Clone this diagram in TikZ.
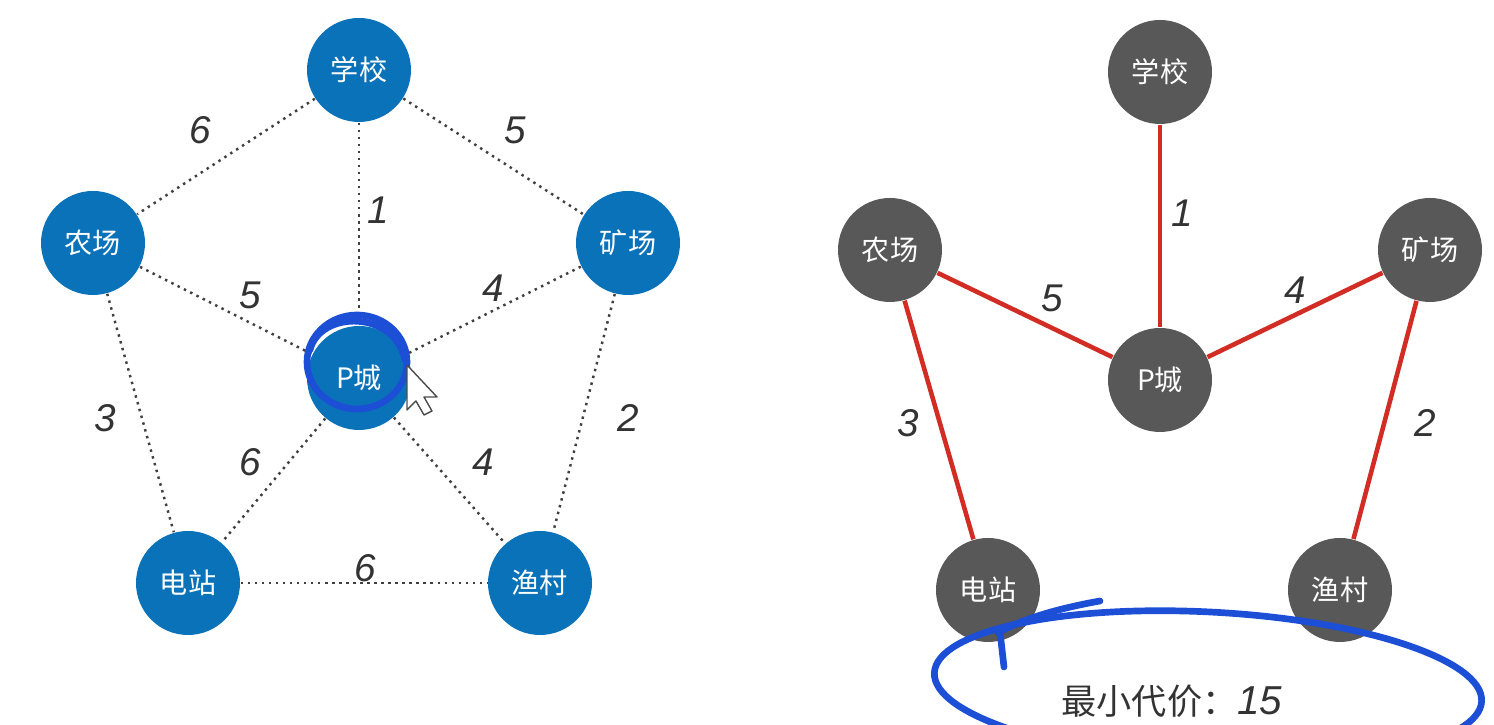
\documentclass[tikz,border=0pt]{standalone}
\usepackage{fontspec}
\setmainfont{Liberation Sans}
\newfontfamily\cjk{Noto Sans CJK SC}
\definecolor{cblue}{RGB}{10,114,184}
\definecolor{cgray}{RGB}{88,88,88}
\definecolor{cred}{RGB}{210,45,36}
\definecolor{pen}{RGB}{28,78,214}

\begin{document}
\begin{tikzpicture}[
    city/.style={circle, minimum size=1.04cm, inner sep=0pt, text=white, font=\cjk\fontsize{8}{9}\selectfont},
    open/.style={city, fill=cblue},
    picked/.style={city, fill=cgray},
    road/.style={draw=black!75, line width=0.7pt, dash pattern=on 0.7pt off 1.3pt},
    tree/.style={draw=cred, line width=1.3pt},
    wt/.style={font=\itshape\fontsize{11}{12}\selectfont, text=black!80},
    ink/.style={draw=pen, line width=1.9pt, line cap=round}
]
    \useasboundingbox (0,0) rectangle (14.94,7.25);
    \clip (0,0) rectangle (14.94,7.25);

    % Left - full map
    \node[open] (school) at (3.59,6.55) {学校};
    \node[open] (farm) at (0.93,4.82) {农场};
    \node[open] (mine) at (6.28,4.82) {矿场};
    \node[open] (pcity) at (3.59,3.47) {P城};
    \node[open] (plant) at (1.88,1.42) {电站};
    \node[open] (village) at (5.40,1.42) {渔村};

    \draw[road] (school) -- (farm);
    \draw[road] (school) -- (mine);
    \draw[road] (school) -- (pcity);
    \draw[road] (farm) -- (pcity);
    \draw[road] (mine) -- (pcity);
    \draw[road] (farm) -- (plant);
    \draw[road] (mine) -- (village);
    \draw[road] (pcity) -- (plant);
    \draw[road] (pcity) -- (village);
    \draw[road] (plant) -- (village);

    \node[wt] (w-sf) at (2.00,5.95) {6};
    \node[wt] (w-sm) at (5.15,5.95) {5};
    \node[wt] (w-sp) at (3.78,5.15) {1};
    \node[wt] (w-fp) at (2.50,4.30) {5};
    \node[wt] (w-mp) at (4.93,4.37) {4};
    \node[wt] (w-fd) at (1.05,3.07) {3};
    \node[wt] (w-mv) at (6.28,3.07) {2};
    \node[wt] (w-pd) at (2.50,2.63) {6};
    \node[wt] (w-pv) at (4.83,2.63) {4};
    \node[wt] (w-dv) at (3.65,1.57) {6};

    % Right - minimum tree
    \node[picked] (school2) at (11.60,6.53) {学校};
    \node[picked] (farm2) at (8.90,4.75) {农场};
    \node[picked] (mine2) at (14.30,4.75) {矿场};
    \node[picked] (pcity2) at (11.60,3.45) {P城};
    \node[picked] (plant2) at (9.88,1.35) {电站};
    \node[picked] (village2) at (13.40,1.35) {渔村};

    \draw[tree] (school2) -- (pcity2);
    \draw[tree] (farm2) -- (pcity2);
    \draw[tree] (mine2) -- (pcity2);
    \draw[tree] (farm2) -- (plant2);
    \draw[tree] (mine2) -- (village2);

    \node[wt] (w-sp2) at (11.82,5.12) {1};
    \node[wt] (w-fp2) at (10.52,4.27) {5};
    \node[wt] (w-mp2) at (12.95,4.35) {4};
    \node[wt] (w-fd2) at (9.08,3.02) {3};
    \node[wt] (w-mv2) at (14.25,3.02) {2};

    \node[text=black!80] (cost) at (11.72,0.24) {\cjk\fontsize{10}{11}\selectfont 最小代价：\fontspec{Liberation Sans}\itshape\fontsize{11.5}{12}\selectfont 15};

    % Pen marks
    \draw[ink] (3.57,3.63) ellipse (0.50 and 0.47);
    \draw[ink] (3.10,3.75) .. controls (3.20,4.15) and (3.95,4.15) .. (4.05,3.65);
    \draw[ink, rotate around={-3:(12.08,0.38)}] (12.08,0.38) ellipse (2.74 and 0.75);
    \draw[ink] (11.00,1.24) .. controls (10.55,1.16) and (10.20,1.05) .. (9.98,0.92);
    \draw[ink] (10.00,0.93) -- (10.04,0.58);

    % Cursor
    \draw[black!70, fill=white, line width=0.4pt, line join=round]
        (4.07,3.60) -- (4.07,3.15) -- (4.16,3.24) -- (4.24,3.10) -- (4.32,3.14) -- (4.24,3.28) -- (4.37,3.28) -- cycle;
\end{tikzpicture}
\end{document}
